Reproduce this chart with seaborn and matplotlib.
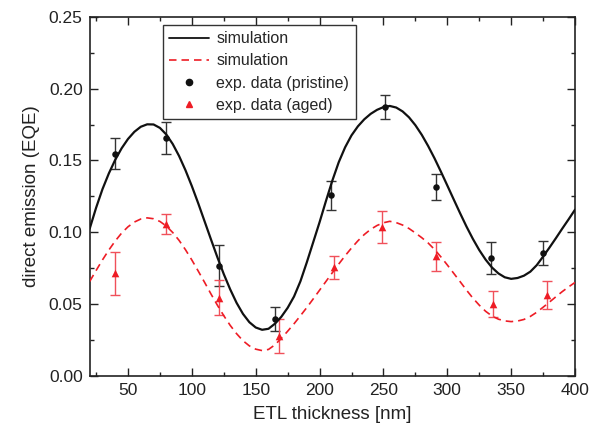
import numpy as np
import pandas as pd
import matplotlib
matplotlib.use("Agg")
import matplotlib.pyplot as plt
import seaborn as sns
from matplotlib.ticker import MultipleLocator, FormatStrFormatter
from matplotlib.lines import Line2D

# ---- data ----
sim_x = [20, 25, 30, 35, 40, 45, 50, 55, 60, 65, 70, 75, 80, 85, 90, 95, 100,
         105, 110, 115, 120, 125, 130, 135, 140, 145, 150, 155, 160, 165, 170,
         175, 180, 185, 190, 195, 200, 205, 210, 215, 220, 225, 230, 235, 240,
         245, 250, 255, 260, 265, 270, 275, 280, 285, 290, 295, 300, 305, 310,
         315, 320, 325, 330, 335, 340, 345, 350, 355, 360, 365, 370, 375, 380,
         385, 390, 395, 400]
sim_pristine = [0.1025, 0.1170, 0.1300, 0.1410, 0.1505, 0.1585, 0.1650, 0.1700,
                0.1735, 0.1752, 0.1751, 0.1727, 0.1681, 0.1615, 0.1531, 0.1432,
                0.1321, 0.1201, 0.1075, 0.0949, 0.0825, 0.0708, 0.0602, 0.0508,
                0.0431, 0.0373, 0.0336, 0.0320, 0.0327, 0.0362, 0.0410, 0.0473,
                0.0552, 0.0658, 0.0790, 0.0930, 0.1070, 0.1218, 0.1360, 0.1488,
                0.1592, 0.1675, 0.1738, 0.1787, 0.1825, 0.1853, 0.1872, 0.1880,
                0.1869, 0.1842, 0.1801, 0.1746, 0.1679, 0.1601, 0.1515, 0.1422,
                0.1326, 0.1229, 0.1133, 0.1040, 0.0954, 0.0876, 0.0809, 0.0754,
                0.0713, 0.0686, 0.0675, 0.0681, 0.0697, 0.0725, 0.0770, 0.0830,
                0.0893, 0.0958, 0.1025, 0.1090, 0.1157]
sim_aged = [0.0657, 0.0733, 0.0807, 0.0876, 0.0939, 0.0994, 0.1038, 0.1071,
            0.1092, 0.1100, 0.1094, 0.1075, 0.1043, 0.0998, 0.0943, 0.0878,
            0.0806, 0.0729, 0.0650, 0.0569, 0.0491, 0.0418, 0.0351, 0.0293,
            0.0244, 0.0208, 0.0185, 0.0175, 0.0183, 0.0215, 0.0260, 0.0310,
            0.0362, 0.0418, 0.0475, 0.0535, 0.0596, 0.0657, 0.0718, 0.0778,
            0.0836, 0.0890, 0.0940, 0.0984, 0.1020, 0.1047, 0.1066, 0.1076,
            0.1067, 0.1050, 0.1026, 0.0995, 0.0962, 0.0925, 0.0880, 0.0828,
            0.0772, 0.0714, 0.0656, 0.0597, 0.0541, 0.0492, 0.0449, 0.0416,
            0.0394, 0.0382, 0.0377, 0.0381, 0.0392, 0.0413, 0.0442, 0.0477,
            0.0513, 0.0550, 0.0586, 0.0619, 0.0650]

exp_x_pristine = [40, 80, 121, 165, 209, 251, 291, 334, 375]
exp_pristine = [0.1548, 0.1658, 0.0768, 0.0394, 0.1257, 0.1874, 0.1313, 0.0820, 0.0855]
err_pristine = [0.011, 0.011, 0.014, 0.0085, 0.010, 0.0085, 0.009, 0.0114, 0.0085]

exp_x_aged = [40, 80, 121, 168, 211, 249, 291, 336, 378]
exp_aged = [0.0715, 0.1060, 0.0545, 0.0277, 0.0757, 0.1036, 0.0831, 0.0501, 0.0564]
err_aged = [0.015, 0.007, 0.012, 0.012, 0.008, 0.011, 0.010, 0.009, 0.0098]

labels = ["simulation", "simulation", "exp. data (pristine)", "exp. data (aged)"]
x_label = "ETL thickness [nm]"
y_label = "direct emission (EQE)"

RED = "#ee1c25"
BLACK = "#111111"

sns.set_style("ticks")
plt.rcParams["font.family"] = ["Liberation Sans", "DejaVu Sans"]

fig = plt.figure(figsize=(6.04, 4.36), dpi=100)
ax = fig.add_axes([0.1485, 0.1383, 0.8035, 0.8227])

sim_df = pd.DataFrame({"x": sim_x, "pristine": sim_pristine, "aged": sim_aged})
pr_df = pd.DataFrame({"x": exp_x_pristine, "y": exp_pristine})
ag_df = pd.DataFrame({"x": exp_x_aged, "y": exp_aged})

sns.lineplot(data=sim_df, x="x", y="pristine", ax=ax, color=BLACK, lw=1.6,
             sort=False, zorder=3)
sns.lineplot(data=sim_df, x="x", y="aged", ax=ax, color=RED, lw=1.2,
             sort=False, zorder=3)
ax.lines[-1].set_dashes((4.5, 3.0))

ax.errorbar(exp_x_pristine, exp_pristine, yerr=err_pristine, fmt="none",
            ecolor="#333333", elinewidth=1.0, capsize=3.5, capthick=1.0, zorder=2)
ax.errorbar(exp_x_aged, exp_aged, yerr=err_aged, fmt="none",
            ecolor="#f0505a", elinewidth=1.0, capsize=3.5, capthick=1.0, zorder=2)

sns.scatterplot(data=pr_df, x="x", y="y", ax=ax, color=BLACK, marker="o", s=22,
                edgecolor=BLACK, linewidth=0, zorder=4)
sns.scatterplot(data=ag_df, x="x", y="y", ax=ax, color=RED, marker="^", s=30,
                edgecolor=RED, linewidth=0, zorder=4)

ax.set_xlim(20, 400)
ax.set_ylim(0, 0.25)
ax.xaxis.set_major_locator(MultipleLocator(50))
ax.xaxis.set_minor_locator(MultipleLocator(25))
ax.yaxis.set_major_locator(MultipleLocator(0.05))
ax.yaxis.set_minor_locator(MultipleLocator(0.025))
ax.yaxis.set_major_formatter(FormatStrFormatter("%.2f"))
ax.tick_params(which="both", direction="in", top=True, right=True,
               labelsize=12.5, colors="#222222", width=1.0)
ax.tick_params(which="major", length=5.5, pad=5)
ax.tick_params(which="minor", length=3)
for s in ax.spines.values():
    s.set_linewidth(1.2)
    s.set_color("#222222")

ax.set_xlabel(x_label, fontsize=13.5, labelpad=6, color="#222222")
ax.set_ylabel(y_label, fontsize=13.5, labelpad=6, color="#222222")

handles = [
    Line2D([], [], color=BLACK, lw=1.3),
    Line2D([], [], color=RED, lw=1.2, dashes=(4.5, 3.0)),
    Line2D([], [], color=BLACK, marker="o", ls="none", markersize=4.5),
    Line2D([], [], color=RED, marker="^", ls="none", markersize=5),
]
leg = ax.legend(handles, labels, loc="upper left", bbox_to_anchor=(0.151, 0.978),
                borderaxespad=0, fontsize=11.5, frameon=True, fancybox=False,
                edgecolor="#333333", handlelength=2.5, handletextpad=0.45,
                labelspacing=0.45, borderpad=0.4)
leg.get_frame().set_linewidth(1.0)
leg.get_frame().set_alpha(1)

fig.savefig("out.png", dpi=100)
